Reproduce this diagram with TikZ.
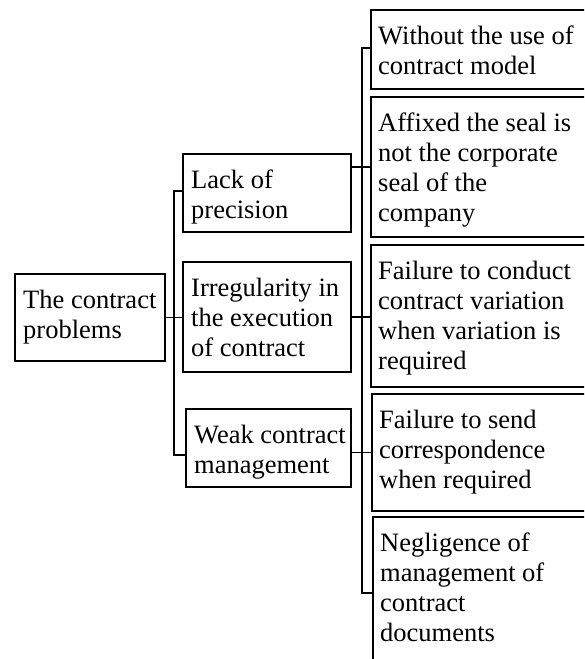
\documentclass[tikz,border=0pt]{standalone}
\usepackage{fontspec}
\setmainfont{Liberation Serif}
\usetikzlibrary{calc}
\newcommand{\lnstrut}{\rule{0pt}{19pt}}
\begin{document}
\begin{tikzpicture}[x=1pt,y=-1pt,
  box/.style={draw, line width=1.8pt, inner sep=0pt, outer sep=0pt, anchor=north west},
  txt/.style={anchor=north west, inner sep=0pt, align=left, font=\fontsize{26.5}{30}\selectfont},
  conn/.style={line width=1.5pt}]
\useasboundingbox (0,0) rectangle (584,659);
\clip (0,0) rectangle (584,659);
\fill[white] (0,0) rectangle (584,659);

% boxes
\node[box, minimum width=150pt, minimum height=87pt] (root) at (15,274) {};
\node[box, minimum width=168pt, minimum height=78pt] (lack) at (183,154) {};
\node[box, minimum width=168pt, minimum height=110pt] (irreg) at (183,262) {};
\node[box, minimum width=165pt, minimum height=78pt] (weak) at (186,409) {};
\node[box, minimum width=250pt, minimum height=79pt] (leaf1) at (371,10) {};
\node[box, minimum width=250pt, minimum height=140pt] (leaf2) at (371,97) {};
\node[box, minimum width=250pt, minimum height=142pt] (leaf3) at (371,245) {};
\node[box, minimum width=250pt, minimum height=117pt] (leaf4) at (372,394) {};
\node[box, minimum width=250pt, minimum height=170pt] (leaf5) at (373,517) {};

% texts
\node[txt] (rootT) at ($(root.north west)+(8,15)$) {\lnstrut The contract\\problems};
\node[txt] (lackT) at ($(lack.north west)+(8,15)$) {\lnstrut Lack of\\precision};
\node[txt] (irregT) at ($(irreg.north west)+(8,15)$) {\lnstrut Irregularity in\\the execution\\of contract};
\node[txt] (weakT) at ($(weak.north west)+(8,15)$) {\lnstrut Weak contract\\management};
\node[txt] (leaf1T) at ($(leaf1.north west)+(7,15)$) {\lnstrut Without the use of\\contract model};
\node[txt] (leaf2T) at ($(leaf2.north west)+(7,15)$) {\lnstrut Affixed the seal is\\not the corporate\\seal of the\\company};
\node[txt] (leaf3T) at ($(leaf3.north west)+(7,15)$) {\lnstrut Failure to conduct\\contract variation\\when variation is\\required};
\node[txt] (leaf4T) at ($(leaf4.north west)+(7,15)$) {\lnstrut Failure to send\\correspondence\\when required};
\node[txt] (leaf5T) at ($(leaf5.north west)+(7,15)$) {\lnstrut Negligence of\\management of\\contract\\documents};

% level 1 connectors
\coordinate (b1t) at (174,191);
\coordinate (b1b) at (174,455);
\draw[conn] (lack.west |- b1t) -- (b1t) -- (b1b) -- (b1b -| weak.west);
\draw[conn] (root.east) -- (root.east -| irreg.west);

% level 2 connectors
\coordinate (b2t) at (362,48);
\coordinate (b2b) at (362,593);
\draw[conn] (leaf1.west |- b2t) -- (b2t) -- (b2b) -- (b2b -| leaf5.west);
\draw[conn] (lack.east |- leaf2.west) -- (leaf2.west);
\draw[conn] (irreg.east) -- (irreg.east -| leaf3.west);
\draw[conn] (weak.east |- leaf4.west) -- (leaf4.west);
\end{tikzpicture}
\end{document}
